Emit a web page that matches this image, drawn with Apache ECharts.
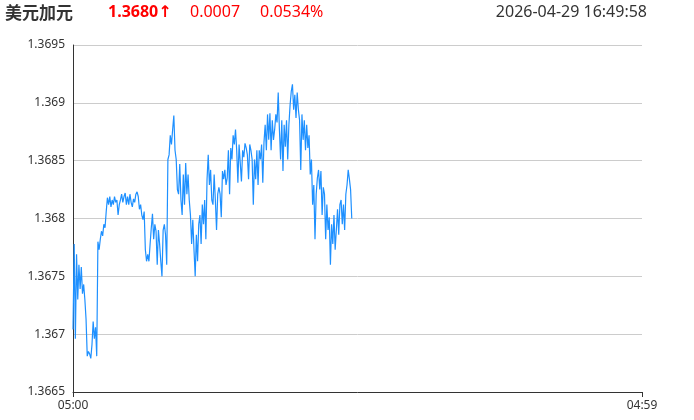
<!DOCTYPE html>
<html><head><meta charset="utf-8">
<script src="https://cdn.jsdelivr.net/npm/echarts@6/dist/echarts.min.js"></script>
<style>html,body{margin:0;padding:0;background:#fff}#c{width:694px;height:420px}</style>
</head><body><div id="c"></div>
<script>
const title = '美元加元';
const lastPrice = '1.3680↑';
const change = '0.0007';
const changePct = '0.0534%';
const stamp = '2026-04-29 16:49:58';
const xTickLabels = ['05:00', '04:59'];
const minuteStep = 3;
const prices = [
1.36704,1.36778,1.36696,1.36769,1.36730,1.36760,1.36739,1.36758,1.36735,1.36743,
1.36730,1.36713,1.36681,1.36685,1.36683,1.36679,1.36691,1.36711,1.36696,1.36706,
1.36681,1.36780,1.36773,1.36782,1.36789,1.36785,1.36795,1.36792,1.36806,1.36818,
1.36812,1.36819,1.36810,1.36816,1.36812,1.36819,1.36814,1.36816,1.36803,1.36812,
1.36816,1.36821,1.36814,1.36819,1.36822,1.36812,1.36819,1.36812,1.36821,1.36814,
1.36810,1.36817,1.36814,1.36821,1.36823,1.36819,1.36808,1.36812,1.36803,1.36799,
1.36806,1.36773,1.36763,1.36769,1.36763,1.36778,1.36792,1.36804,1.36782,1.36795,
1.36789,1.36760,1.36790,1.36778,1.36763,1.36750,1.36790,1.36795,1.36786,1.36760,
1.36851,1.36855,1.36872,1.36864,1.36877,1.36889,1.36859,1.36851,1.36825,1.36821,
1.36847,1.36816,1.36803,1.36838,1.36812,1.36848,1.36821,1.36838,1.36816,1.36803,
1.36778,1.36799,1.36773,1.36750,1.36786,1.36763,1.36795,1.36803,1.36778,1.36812,
1.36795,1.36816,1.36782,1.36834,1.36855,1.36829,1.36842,1.36816,1.36812,1.36838,
1.36816,1.36790,1.36821,1.36827,1.36821,1.36801,1.36841,1.36834,1.36842,1.36829,
1.36835,1.36859,1.36821,1.36861,1.36851,1.36872,1.36864,1.36877,1.36859,1.36831,
1.36864,1.36865,1.36832,1.36859,1.36853,1.36865,1.36861,1.36855,1.36834,1.36864,
1.36859,1.36851,1.36812,1.36851,1.36834,1.36859,1.36829,1.36859,1.36851,1.36864,
1.36831,1.36866,1.36881,1.36859,1.36890,1.36868,1.36891,1.36859,1.36885,1.36868,
1.36877,1.36890,1.36883,1.36909,1.36877,1.36851,1.36885,1.36841,1.36881,1.36862,
1.36885,1.36851,1.36881,1.36898,1.36910,1.36916,1.36894,1.36907,1.36887,1.36909,
1.36894,1.36885,1.36842,1.36890,1.36868,1.36885,1.36859,1.36881,1.36861,1.36872,
1.36838,1.36851,1.36812,1.36829,1.36782,1.36821,1.36835,1.36842,1.36825,1.36841,
1.36803,1.36827,1.36821,1.36782,1.36812,1.36790,1.36801,1.36760,1.36795,1.36778,
1.36803,1.36773,1.36790,1.36808,1.36786,1.36812,1.36816,1.36795,1.36812,1.36790,
1.36821,1.36829,1.36842,1.36834,1.36825,1.36800
];
const yMin = 1.3665, yMax = 1.3695, yStep = 0.0005;
const xMax = 1439;

const seriesData = prices.map((p, i) => [i * minuteStep, p]);
const chart = echarts.init(document.getElementById('c'));
const txt = 'Microsoft YaHei, "Noto Sans CJK SC", sans-serif';
const num = '"Noto Sans", "DejaVu Sans", sans-serif';
chart.setOption({
  animation: false,
  grid: { left: 73, right: 52, top: 45, bottom: 28 },
  graphic: [
    { type: 'text', left: 5, top: 4, style: { text: title, font: 'bold 17px ' + txt, fill: '#333' } },
    { type: 'text', left: 108, top: 4, style: { text: lastPrice, font: 'bold 16px ' + num, fill: '#ff0000' } },
    { type: 'text', left: 190, top: 4, style: { text: change, font: '16px ' + num, fill: '#ff0000' } },
    { type: 'text', left: 260, top: 4, style: { text: changePct, font: '16px ' + num, fill: '#ff0000' } },
    { type: 'text', right: 47, top: 4, style: { text: stamp, font: '16px ' + num, fill: '#333' } }
  ],
  xAxis: {
    type: 'value', min: 0, max: xMax, interval: xMax,
    axisLine: { lineStyle: { color: '#333' } },
    axisTick: { show: true, length: 5, lineStyle: { color: '#333' } },
    splitLine: { show: false },
    axisLabel: { color: '#333', fontSize: 12, fontFamily: num, margin: 8,
      formatter: v => v === 0 ? xTickLabels[0] : xTickLabels[1] }
  },
  yAxis: {
    type: 'value', min: yMin, max: yMax, interval: yStep,
    axisLine: { show: true, lineStyle: { color: '#333' } },
    axisTick: { show: false },
    splitLine: { lineStyle: { color: '#ccc' } },
    axisLabel: { color: '#333', fontSize: 12, fontFamily: num, margin: 8 }
  },
  series: [{
    type: 'line', data: seriesData, showSymbol: false, symbol: 'none',
    lineStyle: { color: '#1e90ff', width: 1.2 }
  }]
});
</script></body></html>
